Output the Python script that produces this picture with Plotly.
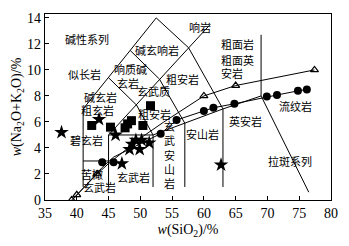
import plotly.graph_objects as go

# ---- field boundary lines (TAS grid), None separates segments ----
grid_x = [41, 41, None, 41, 45, 48.4, 52.5, 57.6, 63, 63, None,
          41, 45, None, 45, 45, 52, 52, None, 45, 61,
          None, 45, 49.4, 52, None, 48.4, 53, 57, 57, None,
          52, 57, 63, 69, 76.5, None, 69, 69]
grid_y = [1, 7, None, 7, 9.4, 11.5, 14, 11.7, 7, 1, None,
          3, 3, None, 1, 5, 5, 1, None, 5, 13.5,
          None, 9.4, 7.3, 5, None, 11.5, 9.3, 5.9, 1, None,
          5, 5.9, 7, 8, 0.6, None, 8, 12.7]

# ---- Irvine & Baragar line (triangles) ----
tri_x = [39.2, 40, 43.2, 45, 48, 50, 53.7, 55, 60, 65, 77.4]
tri_y = [0, 0.4, 2, 2.8, 4, 4.75, 6, 6.4, 8, 8.8, 10]
tri_mark = [39.2, 40, 43.2, 60, 65, 77.4]
tri_mark_y = [0, 0.4, 2, 8, 8.8, 10]

# ---- second series line (filled circles) ----
cir_x = [44.0, 45.8, 53.2, 55.7, 60.0, 61.5, 64.8, 69.9, 71.5, 74.8, 76.2]
cir_y = [2.9, 2.9, 5.1, 6.15, 6.84, 7.09, 7.4, 7.95, 8.07, 8.39, 8.5]
cirline_x = [39.5, 44.0, 45.8, 53.2, 55.7, 60.0, 61.5, 64.8, 69.9, 71.5, 74.8, 76.2]
cirline_y = [0.1, 2.5, 3.3, 5.1, 6.15, 6.84, 7.09, 7.4, 7.95, 8.07, 8.39, 8.5]

# ---- samples ----
sq_x = [42.35, 45.3, 47.6, 48.0, 48.6, 50.4, 51.6]
sq_y = [5.73, 5.6, 5.55, 5.85, 6.1, 5.73, 7.25]
star_x = [37.6, 43.5, 46.1, 47.1, 48.3, 48.7, 49.3, 49.9, 50.2, 51.4, 62.7]
star_y = [5.2, 6.2, 5.0, 2.8, 3.9, 4.3, 4.6, 3.9, 4.6, 4.4, 2.7]

# ---- field labels ----
lab_text = ["碱性系列", "似长岩", "响质碱", "玄岩", "碱玄响岩", "响岩", "粗安岩",
            "玄武质", "粗安岩", "碱玄岩", "粗玄岩", "碧玄岩", "苦橄", "玄武岩", "玄武岩",
            "玄<br>武<br>安<br>山<br>岩", "安山岩", "英安岩",
            "流纹岩", "拉斑系列"]
lab_x = [41.6, 41.2, 48.5, 48.1, 52.6, 59.4, 56.6,
         52.0, 52.3, 43.7, 43.3, 41.6, 42.4, 43.55, 48.9,
         54.6, 59.8, 66.6, 74.4, 73.5]
lab_y = [12.4, 9.7, 10.05, 9.0, 11.55, 13.3, 9.3,
         8.4, 6.6, 7.95, 6.95, 4.6, 2.0, 0.98, 1.8,
         3.5, 5.1, 6.1, 7.2, 3.0]

# trachyte group label (left aligned block)
tr_text = ["粗面岩", "粗面英", "安岩"]
tr_y = [12.0, 10.8, 9.8]

fig = go.Figure()
fig.add_trace(go.Scatter(x=grid_x, y=grid_y, mode="lines",
                         line=dict(color="black", width=1), hoverinfo="skip"))
fig.add_trace(go.Scatter(x=tri_x, y=tri_y, mode="lines",
                         line=dict(color="black", width=1)))
fig.add_trace(go.Scatter(x=tri_mark, y=tri_mark_y, mode="markers",
                         marker=dict(symbol="triangle-up-open", size=7,
                                     color="black", line=dict(width=1.2))))
fig.add_trace(go.Scatter(x=cirline_x, y=cirline_y, mode="lines",
                         line=dict(color="black", width=1)))
fig.add_trace(go.Scatter(x=cir_x, y=cir_y, mode="markers",
                         marker=dict(symbol="circle", size=8, color="black")))
fig.add_trace(go.Scatter(x=sq_x, y=sq_y, mode="markers",
                         marker=dict(symbol="square", size=9, color="black")))
fig.add_trace(go.Scatter(x=star_x, y=star_y, mode="markers",
                         marker=dict(symbol="star", size=11, color="black")))

for t, x, y in zip(lab_text, lab_x, lab_y):
    fig.add_annotation(x=x, y=y, text=t, showarrow=False, xanchor="center",
                       yanchor="middle",
                       font=dict(family="Noto Sans CJK SC", size=11, color="black"))
for t, y in zip(tr_text, tr_y):
    fig.add_annotation(x=62.3, y=y, text=t, showarrow=False, xanchor="left",
                       yanchor="middle",
                       font=dict(family="Noto Sans CJK SC", size=11, color="black"))

fig.update_layout(
    width=349, height=246,
    margin=dict(l=45, r=12, t=11, b=42),
    paper_bgcolor="white", plot_bgcolor="white",
    showlegend=False,
    font=dict(family="Liberation Serif", color="black"),
)
fig.update_xaxes(range=[35, 80], tickvals=[35, 40, 45, 50, 55, 60, 65, 70, 75, 80],
                 ticks="inside", ticklen=4, tickcolor="black",
                 ticklabeloverflow="allow",
                 showline=True, linecolor="black", linewidth=1.2, mirror=True,
                 showgrid=False, zeroline=False,
                 tickfont=dict(family="Liberation Serif", size=14),
                 title=dict(text="<i>w</i>(SiO<sub>2</sub>)/%", standoff=4,
                            font=dict(family="Liberation Serif", size=14)))
fig.update_yaxes(range=[0, 14.3], tickvals=[0, 2, 4, 6, 8, 10, 12, 14],
                 ticks="inside", ticklen=4, tickcolor="black",
                 showline=True, linecolor="black", linewidth=1.2, mirror=True,
                 showgrid=False, zeroline=False,
                 tickfont=dict(family="Liberation Serif", size=14),
                 title=dict(text="<i>w</i>(Na<sub>2</sub>O+K<sub>2</sub>O)/%", standoff=2,
                            font=dict(family="Liberation Serif", size=14)))

fig.write_html("out.html", config={"displayModeBar": False},
               post_script="document.body.style.margin='0px';document.body.style.overflow='hidden';")
